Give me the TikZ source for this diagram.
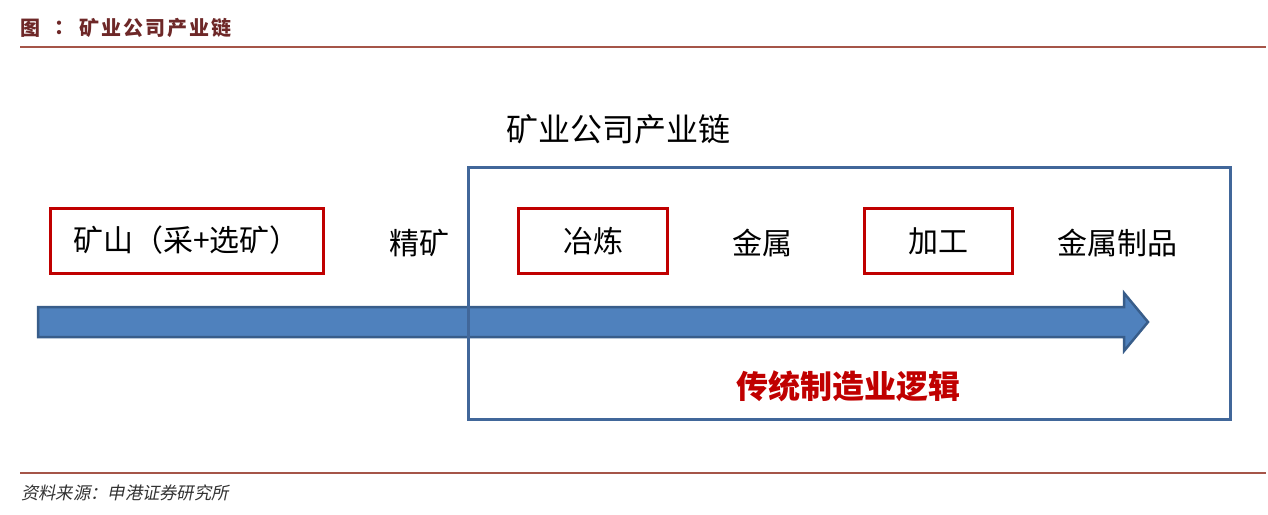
\documentclass[tikz,border=0pt]{standalone}
\usepackage{fontspec}
\setmainfont{Noto Sans CJK SC}
\newfontfamily\cjkit[FakeSlant=0.2]{Noto Sans CJK SC}
\definecolor{titlered}{RGB}{110,40,40}
\definecolor{rulered}{RGB}{165,85,72}
\definecolor{boxred}{RGB}{192,0,0}
\definecolor{boxblue}{RGB}{65,103,154}
\definecolor{arrowfill}{RGB}{79,129,189}
\definecolor{arrowline}{RGB}{56,93,138}
\definecolor{foot}{RGB}{50,50,50}
\tikzset{
  redbox/.style={draw=boxred, line width=3pt, minimum height=65pt, inner sep=0pt, font=\fontsize{30}{32}\selectfont},
  lbl/.style={inner sep=0pt, font=\fontsize{30}{32}\selectfont},
  ttl/.style={anchor=west, inner sep=0pt, text=titlered, font=\fontsize{20}{21}\selectfont\bfseries},
}
\begin{document}
\begin{tikzpicture}[x=1pt,y=-1pt]
\useasboundingbox (0,0) rectangle (1268,514);
% title and rules
\node[ttl] (fig) at (20,28) {图};
\node[ttl] (colon) at (54,28) {：};
\node[ttl] (title) at (79,28) {矿\hspace{2pt}业\hspace{2pt}公\hspace{2pt}司\hspace{2pt}产\hspace{2pt}业\hspace{2pt}链};
\coordinate (r1a) at (20,47); \coordinate (r1b) at (1266,47);
\draw[rulered, line width=1.6pt] (r1a) -- (r1b);
\coordinate (r2a) at (20,473); \coordinate (r2b) at (1266,473);
\draw[rulered, line width=1.6pt] (r2a) -- (r2b);
\node[anchor=west, inner sep=0pt, text=foot, font=\fontsize{17.3}{19}\selectfont\cjkit] (src) at (21,493) {资料来源：申港证券研究所};
% arrow
\fill[arrowfill, draw=arrowline, line width=2.5pt, line join=miter]
  (38,307) -- (1124,307) -- (1124,293) -- (1148,322) -- (1124,351) -- (1124,337) -- (38,337) -- cycle;
% blue frame
\node[draw=boxblue, line width=3pt, minimum width=762pt, minimum height=252pt, inner sep=0pt] (frame) at (849,293) {};
\node[lbl, font=\fontsize{32}{34}\selectfont] (chain) at (618,129) {矿业公司产业链};
% red boxes
\node[redbox, minimum width=273pt] (mine) at (186.5,240.5) {矿山（采+选矿）};
\node[redbox, minimum width=149pt] (smelt) at (593,241) {冶炼};
\node[redbox, minimum width=148pt] (proc) at (938,241) {加工};
% labels
\node[lbl] (conc) at (419,243) {精矿};
\node[lbl] (metal) at (762,243) {金属};
\node[lbl] (prod) at (1117,243) {金属制品};
\node[inner sep=0pt, text=boxred, font=\fontsize{32}{34}\selectfont\bfseries] (logic) at (848,386) {传统制造业逻辑};
\end{tikzpicture}
\end{document}
